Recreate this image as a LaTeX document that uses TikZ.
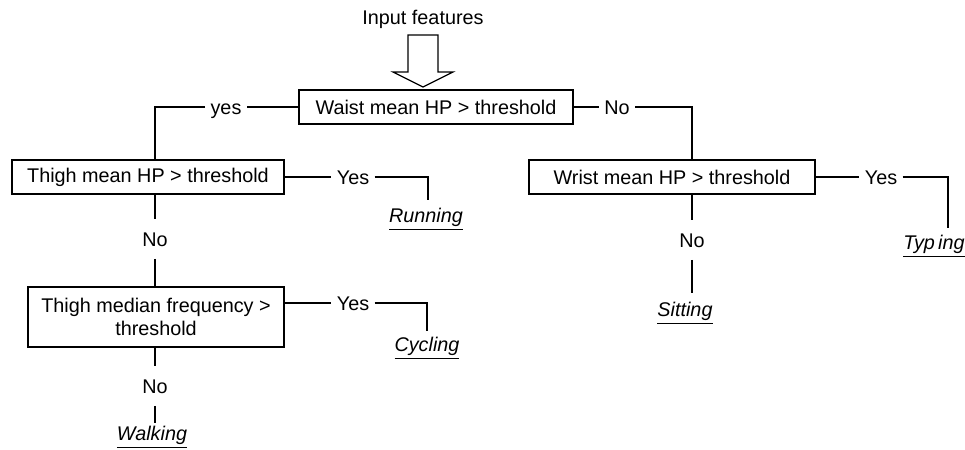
\documentclass[tikz,border=0pt]{standalone}
\usepackage{fontspec}
\setmainfont{Liberation Sans}
\usetikzlibrary{positioning,calc}

\begin{document}
\begin{tikzpicture}[x=0.5pt, y=-0.5pt,
        every node/.style={font=\fontsize{9.9}{11.5}\selectfont},
        box/.style={draw, line width=1pt, align=center, inner sep=0pt},
        lbl/.style={inner xsep=2.5pt, inner ysep=1.5pt, text height=1.6ex, text depth=0.25ex},
        nolbl/.style={lbl, inner ysep=4.8pt},
        leaf/.style={inner sep=1pt, font=\fontsize{9.9}{11.5}\selectfont\itshape},
        wire/.style={line width=0.9pt}]
    \useasboundingbox (0,0) rectangle (965,450);

    % Input
    \node (input) at (423,19) {Input features};
    \draw[line width=0.6pt] (408,35) -- (438,35) -- (438,72) -- (453,72)
        -- (423,87) -- (393,72) -- (408,72) -- cycle;

    % Decision boxes
    \node[box, minimum width=137pt, minimum height=17pt] (waist) at (436,107) {Waist mean HP > threshold};
    \node[box, minimum width=136pt, minimum height=17pt] (thigh) at (148,177) {Thigh mean HP > threshold};
    \node[box, minimum width=128pt, minimum height=30pt] (median) at (156,317) {Thigh median frequency >\\threshold};
    \node[box, minimum width=143pt, minimum height=17pt] (wrist) at (672,177) {Wrist mean HP > threshold};

    % Branch labels
    \node[lbl] (yes1) at (226,107) {yes};
    \node[lbl] (no1) at (617,107) {No};
    \node[lbl] (yes2) at (353,177) {Yes};
    \node[nolbl] (no2) at (155,239) {No};
    \node[lbl] (yes3) at (353,303) {Yes};
    \node[nolbl] (no3) at (155,386) {No};
    \node[lbl] (yes4) at (881,177) {Yes};
    \node[nolbl] (no4) at (692,240) {No};

    % Classes
    \node[leaf] (running) at (426,219) {\underline{Running}};
    \node[leaf] (cycling) at (427,348) {\underline{Cycling}};
    \node[leaf] (walking) at (152,437) {\underline{Walking}};
    \node[leaf] (sitting) at (685,313) {\underline{Sitting}};
    \node[leaf] (typing) at (934,246) {\underline{Typ\,ing}};

    % Corners and free ends
    \coordinate (ca) at (155,107);
    \coordinate (cb) at (692,107);
    \coordinate (cc) at (428,177);
    \coordinate (cc2) at (428,200);
    \coordinate (cd) at (427,303);
    \coordinate (cd2) at (427,331);
    \coordinate (ce) at (948,177);
    \coordinate (ce2) at (948,228);
    \coordinate (wk) at (155,423);
    \coordinate (st) at (692,293);

    % Waist branches
    \draw[wire] (waist.west) -- (yes1.east);
    \draw[wire] (yes1.west) -- (ca) -- (ca |- thigh.north);
    \draw[wire] (waist.east) -- (no1.west);
    \draw[wire] (no1.east) -- (cb) -- (cb |- wrist.north);

    % Thigh branches
    \draw[wire] (thigh.east) -- (yes2.west);
    \draw[wire] (yes2.east) -- (cc) -- (cc2);
    \draw[wire] (thigh.south -| no2) -- (no2.north);
    \draw[wire] (no2.south) -- (median.north -| no2);

    % Median branches
    \draw[wire] (yes3 -| median.east) -- (yes3.west);
    \draw[wire] (yes3.east) -- (cd) -- (cd2);
    \draw[wire] (median.south -| no3) -- (no3.north);
    \draw[wire] (no3.south) -- (wk);

    % Wrist branches
    \draw[wire] (wrist.east) -- (yes4.west);
    \draw[wire] (yes4.east) -- (ce) -- (ce2);
    \draw[wire] (wrist.south -| no4) -- (no4.north);
    \draw[wire] (no4.south) -- (st);
\end{tikzpicture}
\end{document}
